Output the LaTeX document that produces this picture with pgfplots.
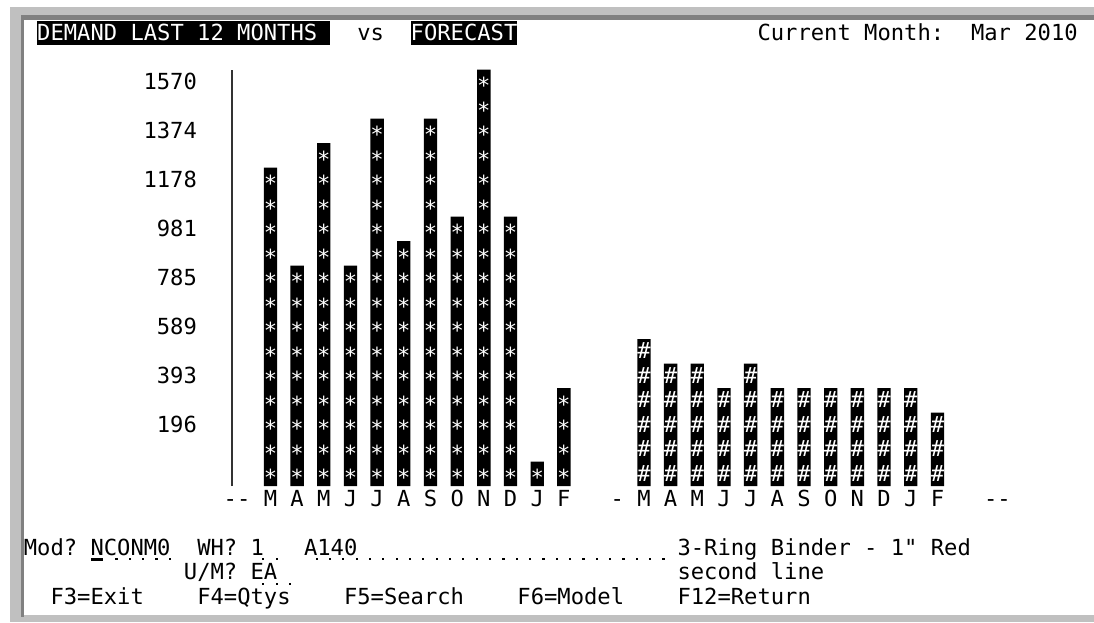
\documentclass[border=0pt]{standalone}
\usepackage{pgfplots}
\usepackage{pgfplotstable}
\pgfplotsset{compat=1.18}
\usepackage{fontspec}
\newfontfamily\term{DejaVu Sans Mono}
\newcommand\tf{\term\fontsize{22.15pt}{24.5pt}\selectfont}
\definecolor{frameL}{HTML}{C0C0C0}
\definecolor{frameD}{HTML}{808080}

% screen grid: 80 columns of 13.34px, rows of 24.5px
\newcommand\colx[1]{(23.66+13.34*(#1))*1pt}
\newcommand\at[3]{\node[anchor=base west, inner sep=0pt, font=\tf] at ({\colx{#1}},{-(40.5+24.5*(#2))*1pt}) {#3};}
\newcommand\fielddots[2]{\foreach \b in {#2}{\fill[black] ({\colx{\b}-1.6pt},{-(43.5+24.5*(#1))*1pt}) rectangle +(2.2pt,-2.2pt);}}

% one character per cell, stacked down from the bar top
\newcommand\cellstack[3]{%
  \pgfmathtruncatemacro\ncell{round(#1/98.125)+1}%
  \vbox to 0pt{\offinterlineskip\tf\color{white}%
    \foreach \k in {1,...,\ncell}{\hbox to 13.34pt{\hss\raisebox{#3}[24.5pt][0pt]{#2}\hss}}%
    \vss}}

% demand, last 12 months (Mar 2009 - Feb 2010)
\pgfplotstableread{
x    v
18.5 1178
20.5 785
22.5 1276
24.5 785
26.5 1374
28.5 883
30.5 1374
32.5 981
34.5 1570
36.5 981
38.5 45
40.5 294
}\demand

% forecast, next 12 months
\pgfplotstableread{
x    v
46.5 491
48.5 393
50.5 393
52.5 294
54.5 393
56.5 294
58.5 294
60.5 294
62.5 294
64.5 294
66.5 294
68.5 196
}\forecast

\begin{document}
\begin{tikzpicture}
\path[use as bounding box, fill=white] (0,0) rectangle (1094pt,-622pt);

% window frame
\fill[frameL] (10pt,-7pt) rectangle (1094pt,-20pt);
\fill[frameL] (10pt,-7pt) rectangle (24pt,-622pt);
\fill[frameL] (10pt,-615pt) rectangle (1094pt,-622pt);
\fill[frameD] (20.5pt,-15pt) rectangle (1094pt,-19.5pt);
\fill[frameD] (20.5pt,-15pt) rectangle (24pt,-617pt);

% header line
\fill[black] ({\colx{1}},-20.5pt) rectangle ({\colx{23}},-45pt);
\fill[black] ({\colx{29}},-20.5pt) rectangle ({\colx{37}},-45pt);
\at{1}{0}{\color{white}DEMAND LAST 12 MONTHS}
\at{25}{0}{vs}
\at{29}{0}{\color{white}FORECAST}
\at{55}{0}{Current Month:}
\at{71}{0}{Mar 2010}

\begin{axis}[
  at={(232pt,-486pt)}, anchor=south west,
  x=13.34pt, y=24.5pt,
  xmin=15.62, xmax=80, ymin=0, ymax=17,
  axis lines*=left,
  x axis line style={draw=none},
  y axis line style={draw=black!80, line width=1.6pt},
  major tick length=0pt,
  ytick={2.5,4.5,6.5,8.5,10.5,12.5,14.5,16.5},
  yticklabels={196,393,589,785,981,1178,1374,1570},
  yticklabel style={font=\tf, anchor=east, inner sep=0pt, xshift=-34.9pt},
  xtick={16,18.5,20.5,22.5,24.5,26.5,28.5,30.5,32.5,34.5,36.5,38.5,40.5,44.5,46.5,48.5,50.5,52.5,54.5,56.5,58.5,60.5,62.5,64.5,66.5,68.5,73},
  xticklabels={-{}-,M,A,M,J,J,A,S,O,N,D,J,F,-,M,A,M,J,J,A,S,O,N,D,J,F,-{}-},
  xticklabel style={font=\tf, anchor=base, inner sep=0pt, yshift=-20pt},
  ybar, clip=false,
  y filter/.expression={round(y/98.125)+1},
  visualization depends on={rawy \as \rawy},
  every node near coord/.append style={inner sep=0pt, outer sep=0pt},
]
\addplot[fill=black, draw=none, bar width=13.34pt, bar shift=0pt,
  nodes near coords={\cellstack{\rawy}{*}{0pt}}] table[x=x, y=v] {\demand};
\addplot[fill=black, draw=none, bar width=13.34pt, bar shift=0pt,
  nodes near coords={\cellstack{\rawy}{\#}{4.2pt}}] table[x=x, y=v] {\forecast};
\end{axis}

% input fields and function keys
\at{0}{21}{Mod?}
\at{5}{21}{NCONM0}
\fill[black] ({\colx{5}+0.5pt},-558pt) rectangle ({\colx{6}-0.5pt},-560.5pt);
\fielddots{21}{7,...,11}
\at{13}{21}{WH?}
\at{17}{21}{1}
\fielddots{21}{18,19}
\at{21}{21}{A140}
\fielddots{21}{22,...,48}
\at{49}{21}{3-Ring Binder - 1" Red}
\at{12}{22}{U/M?}
\at{17}{22}{EA}
\fielddots{22}{18,19,20}
\at{49}{22}{second line}
\at{2}{23}{F3=Exit}
\at{13}{23}{F4=Qtys}
\at{24}{23}{F5=Search}
\at{37}{23}{F6=Model}
\at{49}{23}{F12=Return}
\end{tikzpicture}
\end{document}
